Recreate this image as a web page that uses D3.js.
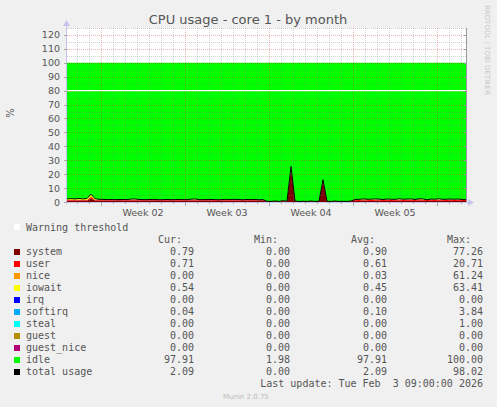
<!DOCTYPE html>
<html>
<head>
<meta charset="utf-8">
<script src="https://cdn.jsdelivr.net/npm/d3@7"></script>
<style>
  body { margin: 0; background: #f0f0f0; }
  svg { display: block; }
  .axisText { font-family: "DejaVu Sans", sans-serif; font-size: 9.5px; fill: #555; }
  .legText { font-family: "DejaVu Sans Mono", monospace; font-size: 10px; fill: #555; white-space: pre; }
</style>
</head>
<body>
<div id="chart"></div>
<script>
// CPU usage - core 1 - by month (munin style)

// one sample every 8 hours, starting Fri Jan 2 2026 04:00
var startTime = Date.UTC(2026, 0, 2, 4);
var stepHours = 8;

var seriesNames = ["system", "user", "nice", "iowait", "irq", "softirq", "steal", "guest", "guest_nice", "idle"];
var seriesColors = ["#7f0000", "#ff0000", "#ff9900", "#ffff00", "#0000ff", "#00aaff", "#00ffff", "#b38f00", "#b3007a", "#00ff00"];

var system = [
  0.9,1.0,0.9,1.1,1.0,0.9,2.5,1.0,0.9,
  1.0,1.1,0.9,1.0,1.2,1.0,0.9,1.1,1.0,1.0,0.9,1.1,1.0,1.2,1.0,0.9,1.0,1.1,1.0,0.9,1.0,1.1,1.0,1.0,0.9,1.1,1.2,1.0,0.9,1.0,1.1,1.0,0.9,1.0,1.1,1.0,1.0,0.9,1.1,1.0,1.0,
  0.4,0.3,0.5,0.3,0.6,0.4,23.8,0.5,0.3,0.4,0.3,0.5,0.3,0.4,14.9,0.4,0.3,0.5,0.3,0.4,0.3,0.5,
  0.9,0.8,1.0,0.9,0.8,0.9,1.0,0.8,0.9,0.8,0.9,1.0,0.8,0.9,0.9,0.8,1.0,0.9,0.8,0.9,0.8,1.0,0.9,0.8,0.9,0.8,0.9,0.8
];
var user = [
  0.6,0.5,0.7,0.6,0.5,0.6,1.2,0.6,0.5,
  0.6,0.5,0.7,0.6,0.5,0.6,0.7,0.5,0.6,0.6,0.7,0.5,0.6,0.6,0.5,0.7,0.6,0.5,0.6,0.7,0.6,0.5,0.6,0.7,0.6,0.5,0.6,0.6,0.7,0.5,0.6,0.6,0.5,0.7,0.6,0.5,0.6,0.7,0.6,0.5,0.6,
  0.1,0.1,0.2,0.1,0.3,0.2,1.2,0.2,0.1,0.1,0.1,0.2,0.1,0.1,0.8,0.1,0.1,0.2,0.1,0.1,0.1,0.2,
  0.7,0.8,0.7,0.9,0.8,0.7,0.8,0.9,0.7,0.8,0.8,0.7,0.9,0.8,0.7,0.8,0.9,0.8,0.7,0.8,0.9,0.7,0.8,0.8,0.7,0.9,0.8,0.7
];
var nice = [0,0,0,0,0,0,0,0,0,0,0,0,0,0,0,0,0,0,0,0,0,0,0,0,0,0,0,0,0,0,0,0,0,0,0,0,0,0,0,0,0,0,0,0,0,0,0,0,0,0,0,0,0,0,0,0,0,0,0,0,0,0,0,0,0,0,0,0,0,0,0,0,0,0,0,0,0,0,0,0,0,0,0,0,0,0,0,0,0,0,0,0,0,0,0,0,0,0,0,0];
var iowait = [
  0.6,0.8,0.5,0.7,0.6,0.9,1.8,0.7,0.4,
  0.2,0.0,0.1,0.0,0.0,0.1,0.0,0.4,0.5,0.1,0.0,0.0,0.1,0.0,0.0,0.0,0.1,0.0,0.0,0.2,0.0,0.0,0.3,0.4,0.1,0.0,0.0,0.1,0.0,0.0,0.0,0.2,0.3,0.1,0.0,0.0,0.1,0.0,0.0,0.0,0.0,
  0,0,0,0,0,0,0.3,0,0,0,0,0,0,0,0.2,0,0,0,0,0,0,0,
  0.1,0.2,0.4,0.1,0.3,0.5,0.2,0.0,0.4,0.3,0.1,0.5,0.2,0.3,0.5,0.1,0.3,0.4,0.0,0.3,0.2,0.5,0.1,0.3,0.4,0.2,0.3,0.1
];
var irq = [0,0,0,0,0,0,0,0,0,0,0,0,0,0,0,0,0,0,0,0,0,0,0,0,0,0,0,0,0,0,0,0,0,0,0,0,0,0,0,0,0,0,0,0,0,0,0,0,0,0,0,0,0,0,0,0,0,0,0,0,0,0,0,0,0,0,0,0,0,0,0,0,0,0,0,0,0,0,0,0,0,0,0,0,0,0,0,0,0,0,0,0,0,0,0,0,0,0,0,0];
var softirq = [
  0.1,0.1,0.1,0.1,0.1,0.1,0.1,0.1,0.1,
  0.1,0.1,0.1,0.1,0.1,0.1,0.1,0.1,0.1,0.1,0.1,0.1,0.1,0.1,0.1,0.1,0.1,0.1,0.1,0.1,0.1,0.1,0.1,0.1,0.1,0.1,0.1,0.1,0.1,0.1,0.1,0.1,0.1,0.1,0.1,0.1,0.1,0.1,0.1,0.1,0.1,
  0,0,0,0,0,0,0.2,0,0,0,0,0,0,0,0.1,0,0,0,0,0,0,0,
  0.1,0.1,0.1,0.1,0.1,0.1,0.1,0.1,0.1,0.1,0.1,0.1,0.1,0.1,0.1,0.1,0.1,0.1,0.1,0.1,0.1,0.1,0.1,0.1,0.1,0.1,0.1,0.1
];
var steal = [0,0,0,0,0,0,0,0,0,0,0,0,0,0,0,0,0,0,0,0,0,0,0,0,0,0,0,0,0,0,0,0,0,0,0,0,0,0,0,0,0,0,0,0,0,0,0,0,0,0,0,0,0,0,0,0,0,0,0,0,0,0,0,0,0,0,0,0,0,0,0,0,0,0,0,0,0,0,0,0,0,0,0,0,0,0,0,0,0,0,0,0,0,0,0,0,0,0,0,0];
var guest = [0,0,0,0,0,0,0,0,0,0,0,0,0,0,0,0,0,0,0,0,0,0,0,0,0,0,0,0,0,0,0,0,0,0,0,0,0,0,0,0,0,0,0,0,0,0,0,0,0,0,0,0,0,0,0,0,0,0,0,0,0,0,0,0,0,0,0,0,0,0,0,0,0,0,0,0,0,0,0,0,0,0,0,0,0,0,0,0,0,0,0,0,0,0,0,0,0,0,0,0];
var guest_nice = [0,0,0,0,0,0,0,0,0,0,0,0,0,0,0,0,0,0,0,0,0,0,0,0,0,0,0,0,0,0,0,0,0,0,0,0,0,0,0,0,0,0,0,0,0,0,0,0,0,0,0,0,0,0,0,0,0,0,0,0,0,0,0,0,0,0,0,0,0,0,0,0,0,0,0,0,0,0,0,0,0,0,0,0,0,0,0,0,0,0,0,0,0,0,0,0,0,0,0,0];
var idle = [
  97.8,97.6,97.8,97.5,97.8,97.5,94.4,97.6,98.1,
  98.1,98.3,98.2,98.3,98.2,98.2,98.3,97.9,97.8,98.2,98.3,98.3,98.2,98.1,98.4,98.3,98.2,98.3,98.3,98.1,98.3,98.3,98.0,97.8,98.3,98.3,98.1,98.2,98.3,98.4,98.2,98.1,98.2,98.1,98.2,98.4,98.2,98.3,98.2,98.4,98.3,
  99.5,99.6,99.3,99.6,99.1,99.4,74.5,99.3,99.6,99.5,99.6,99.3,99.6,99.5,84.0,99.5,99.6,99.3,99.6,99.5,99.6,99.3,
  98.2,98.1,97.8,98.0,98.0,97.8,97.9,98.2,97.9,98.0,98.1,97.7,98.0,97.9,97.8,98.2,97.7,97.8,98.4,97.9,98.0,97.7,98.1,98.0,97.9,98.0,97.9,98.3
];
var totalUsage = [
  2.2,2.4,2.2,2.5,2.2,2.5,5.6,2.4,1.9,
  1.9,1.7,1.8,1.7,1.8,1.8,1.7,2.1,2.2,1.8,1.7,1.7,1.8,1.9,1.6,1.7,1.8,1.7,1.7,1.9,1.7,1.7,2.0,2.2,1.7,1.7,1.9,1.8,1.7,1.6,1.8,1.9,1.8,1.9,1.8,1.6,1.8,1.7,1.8,1.6,1.7,
  0.5,0.4,0.7,0.4,0.9,0.6,25.5,0.7,0.4,0.5,0.4,0.7,0.4,0.5,16.0,0.5,0.4,0.7,0.4,0.5,0.4,0.7,
  1.8,1.9,2.2,2.0,2.0,2.2,2.1,1.8,2.1,2.0,1.9,2.3,2.0,2.1,2.2,1.8,2.3,2.2,1.6,2.1,2.0,2.3,1.9,2.0,2.1,2.0,2.1,1.7
];

var warningValue = 80;
var yTicks = [0, 10, 20, 30, 40, 50, 60, 70, 80, 90, 100, 110, 120];

// legend table
var legendNames = ["system", "user", "nice", "iowait", "irq", "softirq", "steal", "guest", "guest_nice", "idle", "total usage"];
var legendColors = ["#7f0000", "#ff0000", "#ff9900", "#ffff00", "#0000ff", "#00aaff", "#00ffff", "#b38f00", "#b3007a", "#00ff00", "#000000"];
var curVals = ["0.79", "0.71", "0.00", "0.54", "0.00", "0.04", "0.00", "0.00", "0.00", "97.91", "2.09"];
var minVals = ["0.00", "0.00", "0.00", "0.00", "0.00", "0.00", "0.00", "0.00", "0.00", "1.98", "0.00"];
var avgVals = ["0.90", "0.61", "0.03", "0.45", "0.00", "0.10", "0.00", "0.00", "0.00", "97.91", "2.09"];
var maxVals = ["77.26", "20.71", "61.24", "63.41", "0.00", "3.84", "1.00", "0.00", "0.00", "100.00", "98.02"];

// sizes
var width = 497;
var height = 407;
var plotLeft = 67;
var plotRight = 467;
var plotTop = 28;
var plotBottom = 202;

var svg = d3.select("#chart")
  .append("svg")
  .attr("width", width)
  .attr("height", height);

svg.append("rect")
  .attr("width", width)
  .attr("height", height)
  .attr("fill", "#f0f0f0");

var seriesArrays = [system, user, nice, iowait, irq, softirq, steal, guest, guest_nice, idle];

// table for d3.stack, one row per sample (+ a closing row out to the right edge)
var table = [];
for (var i = 0; i <= system.length; i++) {
  var k = Math.min(i, system.length - 1);
  var row = { time: new Date(startTime + i * stepHours * 3600000), total: totalUsage[k] };
  seriesNames.forEach(function(name, j) {
    row[name] = seriesArrays[j][k];
  });
  table.push(row);
}

var endTime = new Date(startTime + system.length * stepHours * 3600000);

var xScale = d3.scaleUtc()
  .domain([new Date(startTime), endTime])
  .range([plotLeft, plotRight]);

var yScale = d3.scaleLinear()
  .domain([0, 125])
  .range([plotBottom, plotTop]);

// plot background
svg.append("rect")
  .attr("x", plotLeft)
  .attr("y", plotTop)
  .attr("width", plotRight - plotLeft)
  .attr("height", plotBottom - plotTop)
  .attr("fill", "#ffffff");

// stacked areas
var stacked = d3.stack().keys(seriesNames)(table);

var area = d3.area()
  .x(function(d) { return xScale(d.data.time); })
  .y0(function(d) { return yScale(d[0]); })
  .y1(function(d) { return yScale(d[1]); });

svg.append("g")
  .selectAll("path")
  .data(stacked)
  .enter()
  .append("path")
  .attr("d", area)
  .attr("fill", function(d, i) { return seriesColors[i]; });

// grid, drawn over the data like rrdtool
var grid = svg.append("g").attr("shape-rendering", "crispEdges");

var minorY = d3.range(5, 126, 5).filter(function(v) { return v % 10 !== 0; });
grid.selectAll(".minorY")
  .data(minorY)
  .enter()
  .append("line")
  .attr("x1", plotLeft).attr("x2", plotRight)
  .attr("y1", function(d) { return Math.round(yScale(d)) + 0.5; })
  .attr("y2", function(d) { return Math.round(yScale(d)) + 0.5; })
  .attr("stroke", "rgba(120,120,120,0.35)")
  .attr("stroke-dasharray", "1,1");

var days = d3.utcDay.range(new Date(startTime), endTime).filter(function(d) { return d.getUTCDay() !== 1; });
grid.selectAll(".minorX")
  .data(days)
  .enter()
  .append("line")
  .attr("y1", plotTop).attr("y2", plotBottom)
  .attr("x1", function(d) { return Math.round(xScale(d)) + 0.5; })
  .attr("x2", function(d) { return Math.round(xScale(d)) + 0.5; })
  .attr("stroke", "rgba(120,120,120,0.35)")
  .attr("stroke-dasharray", "1,1");

grid.selectAll(".majorY")
  .data(yTicks.slice(1))
  .enter()
  .append("line")
  .attr("x1", plotLeft).attr("x2", plotRight)
  .attr("y1", function(d) { return Math.round(yScale(d)) + 0.5; })
  .attr("y2", function(d) { return Math.round(yScale(d)) + 0.5; })
  .attr("stroke", "rgba(210,40,40,0.35)")
  .attr("stroke-dasharray", "1,1");

var mondays = d3.utcMonday.range(new Date(startTime), endTime);
grid.selectAll(".majorX")
  .data(mondays)
  .enter()
  .append("line")
  .attr("y1", plotTop).attr("y2", plotBottom)
  .attr("x1", function(d) { return Math.round(xScale(d)) + 0.5; })
  .attr("x2", function(d) { return Math.round(xScale(d)) + 0.5; })
  .attr("stroke", "rgba(210,40,40,0.35)")
  .attr("stroke-dasharray", "1,1");

// warning threshold
svg.append("line")
  .attr("x1", plotLeft).attr("x2", plotRight)
  .attr("y1", yScale(warningValue)).attr("y2", yScale(warningValue))
  .attr("stroke", "#ffffff")
  .attr("stroke-width", 1.2);

// total usage line
var line = d3.line()
  .x(function(d) { return xScale(d.time); })
  .y(function(d) { return yScale(d.total); });

svg.append("path")
  .datum(table)
  .attr("d", line)
  .attr("fill", "none")
  .attr("stroke", "#000")
  .attr("stroke-width", 1);

// right frame
svg.append("line")
  .attr("x1", plotRight - 0.5).attr("x2", plotRight - 0.5)
  .attr("y1", plotTop).attr("y2", plotBottom)
  .attr("stroke", "#999");
svg.append("g")
  .selectAll("line")
  .data(yTicks)
  .enter()
  .append("line")
  .attr("x1", plotRight - 3).attr("x2", plotRight)
  .attr("y1", function(d) { return Math.round(yScale(d)) + 0.5; })
  .attr("y2", function(d) { return Math.round(yScale(d)) + 0.5; })
  .attr("stroke", "#999");

// axes (light lavender with arrows)
var axisColor = "#c4c4ee";
svg.append("line")
  .attr("x1", plotLeft - 0.5).attr("x2", plotLeft - 0.5)
  .attr("y1", plotBottom + 2).attr("y2", plotTop - 4)
  .attr("stroke", axisColor);
svg.append("path")
  .attr("d", "M" + (plotLeft - 4) + "," + (plotTop - 2) + "L" + (plotLeft + 3) + "," + (plotTop - 2) + "L" + (plotLeft - 0.5) + "," + (plotTop - 8) + "Z")
  .attr("fill", axisColor);
svg.append("line")
  .attr("x1", plotLeft - 2).attr("x2", plotRight + 3)
  .attr("y1", plotBottom + 0.5).attr("y2", plotBottom + 0.5)
  .attr("stroke", axisColor);
svg.append("path")
  .attr("d", "M" + (plotRight + 1) + "," + (plotBottom - 3) + "L" + (plotRight + 1) + "," + (plotBottom + 4) + "L" + (plotRight + 7) + "," + (plotBottom + 0.5) + "Z")
  .attr("fill", axisColor);

// y ticks and labels
svg.append("g")
  .selectAll("line")
  .data(yTicks)
  .enter()
  .append("line")
  .attr("x1", plotLeft - 3).attr("x2", plotLeft)
  .attr("y1", function(d) { return Math.round(yScale(d)) + 0.5; })
  .attr("y2", function(d) { return Math.round(yScale(d)) + 0.5; })
  .attr("stroke", "#aaa");

svg.append("g")
  .selectAll("text")
  .data(yTicks)
  .enter()
  .append("text")
  .attr("class", "axisText")
  .attr("x", plotLeft - 7)
  .attr("y", function(d) { return yScale(d) + 3.5; })
  .attr("text-anchor", "end")
  .text(function(d) { return d; });

// x ticks: small per day, taller per week
svg.append("g")
  .selectAll("line")
  .data(d3.utcDay.range(new Date(startTime), endTime))
  .enter()
  .append("line")
  .attr("x1", function(d) { return Math.round(xScale(d)) + 0.5; })
  .attr("x2", function(d) { return Math.round(xScale(d)) + 0.5; })
  .attr("y1", plotBottom)
  .attr("y2", function(d) { return d.getUTCDay() === 1 ? plotBottom + 4 : plotBottom + 2; })
  .attr("stroke", "#aaa");

// week labels, centred on each week
var weekFormat = d3.utcFormat("Week %V");
var weekLabels = mondays.filter(function(d) {
  return +d + 3.5 * 86400000 < +endTime;
});
svg.append("g")
  .selectAll("text")
  .data(weekLabels)
  .enter()
  .append("text")
  .attr("class", "axisText")
  .attr("x", function(d) { return xScale(new Date(+d + 3.5 * 86400000)); })
  .attr("y", plotBottom + 14)
  .attr("text-anchor", "middle")
  .text(function(d) { return weekFormat(d); });

// title
svg.append("text")
  .attr("x", 248)
  .attr("y", 24)
  .attr("text-anchor", "middle")
  .attr("font-family", "DejaVu Sans, sans-serif")
  .attr("font-size", 13)
  .attr("fill", "#555")
  .text("CPU usage - core 1 - by month");

// y label
svg.append("text")
  .attr("transform", "translate(14,113)rotate(-90)")
  .attr("text-anchor", "middle")
  .attr("font-family", "DejaVu Sans, sans-serif")
  .attr("font-size", 10)
  .attr("fill", "#555")
  .text("%");

// rrdtool credit
svg.append("text")
  .attr("transform", "translate(485,5)rotate(90)")
  .attr("font-family", "DejaVu Sans, sans-serif")
  .attr("font-size", 7)
  .attr("fill", "#c8c8c8")
  .text("RRDTOOL / TOBI OETIKER");

// legend
var legend = svg.append("g");
var legTop = 231;
var rowH = 12;

legend.append("rect")
  .attr("x", 14).attr("y", legTop - 7)
  .attr("width", 6).attr("height", 6)
  .attr("fill", "#ffffff");
legend.append("text")
  .attr("class", "legText")
  .attr("x", 26).attr("y", legTop)
  .text("Warning threshold");

var colRight = [194, 290, 387, 483];
var headers = ["Cur:", "Min:", "Avg:", "Max:"];
headers.forEach(function(h, j) {
  legend.append("text")
    .attr("class", "legText")
    .attr("x", colRight[j] - 12)
    .attr("y", legTop + rowH)
    .attr("text-anchor", "end")
    .text(h);
});

var rows = legend.selectAll(".legRow")
  .data(legendNames)
  .enter()
  .append("g")
  .attr("class", "legRow")
  .attr("transform", function(d, i) { return "translate(0," + (legTop + rowH * (i + 2)) + ")"; });

rows.append("rect")
  .attr("x", 14).attr("y", -6)
  .attr("width", 6).attr("height", 6)
  .attr("fill", function(d, i) { return legendColors[i]; });

rows.append("text")
  .attr("class", "legText")
  .attr("x", 26)
  .text(function(d) { return d; });

[curVals, minVals, avgVals, maxVals].forEach(function(vals, j) {
  rows.append("text")
    .attr("class", "legText")
    .attr("x", colRight[j])
    .attr("text-anchor", "end")
    .text(function(d, i) { return vals[i]; });
});

legend.append("text")
  .attr("class", "legText")
  .attr("x", 483)
  .attr("y", legTop + rowH * 13)
  .attr("text-anchor", "end")
  .text("Last update: Tue Feb  3 09:00:00 2026");

svg.append("text")
  .attr("x", 223)
  .attr("y", 399)
  .attr("font-family", "DejaVu Sans, sans-serif")
  .attr("font-size", 7)
  .attr("fill", "#bbb")
  .text("Munin 2.0.75");
</script>
</body>
</html>
